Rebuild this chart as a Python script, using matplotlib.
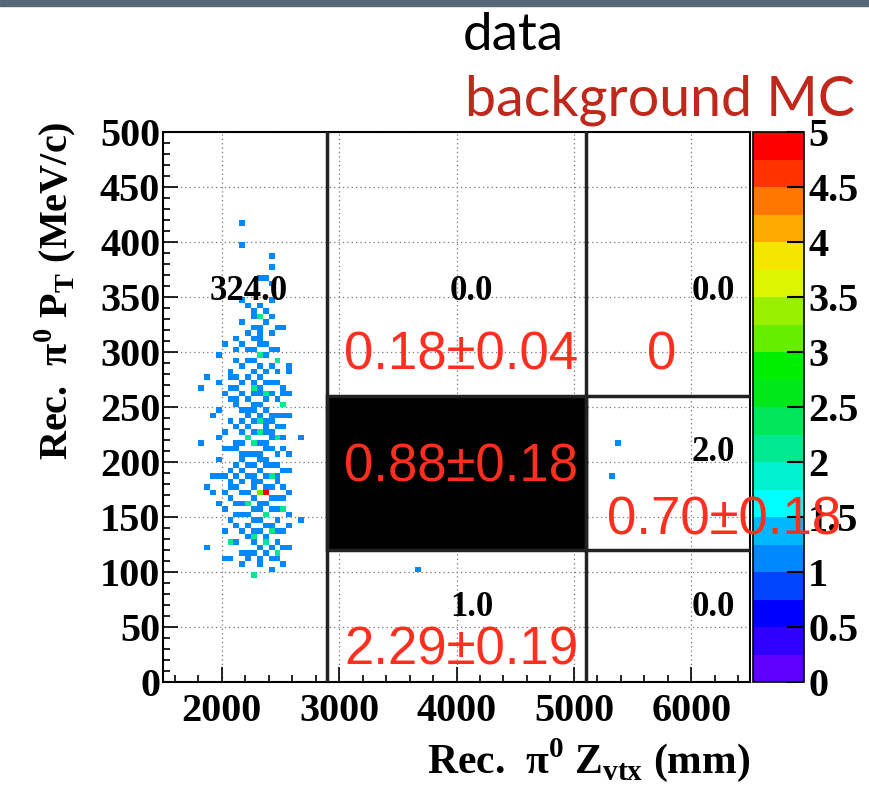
import numpy as np
import matplotlib
matplotlib.use("Agg")
import matplotlib.pyplot as plt
from matplotlib.colors import ListedColormap, BoundaryNorm
from matplotlib.patches import Rectangle
from matplotlib.ticker import MultipleLocator, FuncFormatter

plt.rcParams['font.family'] = ['Liberation Serif', 'DejaVu Serif']
plt.rcParams['font.weight'] = 'bold'

# ------------------------------------------------------------------
# occupied bins (bin centres, 50 mm x 5 MeV/c) and their entries
z_mm = [2175, 2175, 2425, 2425, 2375, 2425, 2325, 2275, 2325, 2275,
        2375, 2425, 2475, 2525, 2225, 2325, 2125, 2025, 1975, 2125,
        2275, 2325, 2375, 2475, 2575, 1875, 1825, 2075, 2125, 2275,
        2325, 2375, 2475, 2575, 2075, 2125, 2275, 2375, 2525, 1975,
        2075, 2125, 2275, 2325, 2425, 2525, 2575, 2175, 2325, 2375,
        1825, 2125, 2225, 2275, 2375, 2475, 2525, 2675, 2175, 2225,
        2325, 2375, 2475, 2575, 1975, 1875, 1925, 1975, 2075, 2075,
        2125, 2175, 2275, 2325, 2375, 2475, 2525, 2575, 2225, 2275,
        2325, 2425, 2525, 2575, 2675, 2125, 2275, 2425, 2025, 2075,
        2275, 2325, 2375, 2475, 1875, 2475, 2575, 2075, 2175, 2375,
        2475, 2025, 2275,
        2175, 2225, 2425, 2325, 2375, 2225, 2175, 2325, 2425, 2275,
        2425, 2175, 2225, 2325, 2475, 2225, 2275, 2375, 2475, 2125,
        2225, 2425, 2525, 2175, 2325, 2375, 2425, 2025, 2275, 2425,
        2525, 2075, 2175, 2325, 2225, 2375, 2425, 2225, 2275, 2125,
        2375, 2475, 2025, 2175, 2325, 2375, 2475, 2225, 2125, 2425,
        2225, 2325, 2525, 2425,
        3675, 5375, 5325]
pt_mev = [417.5, 397.5, 387.5, 377.5, 367.5, 362.5, 367.5, 337.5, 332.5, 332.5,
          337.5, 332.5, 322.5, 322.5, 317.5, 317.5, 312.5, 307.5, 297.5, 302.5,
          302.5, 307.5, 297.5, 292.5, 287.5, 277.5, 267.5, 282.5, 277.5, 282.5,
          277.5, 272.5, 282.5, 282.5, 267.5, 267.5, 267.5, 262.5, 262.5, 247.5,
          257.5, 252.5, 252.5, 252.5, 242.5, 252.5, 242.5, 237.5, 237.5, 232.5,
          217.5, 212.5, 222.5, 227.5, 227.5, 222.5, 222.5, 222.5, 202.5, 207.5,
          207.5, 202.5, 207.5, 207.5, 202.5, 177.5, 172.5, 187.5, 177.5, 167.5,
          187.5, 182.5, 182.5, 172.5, 172.5, 182.5, 177.5, 172.5, 162.5, 157.5,
          162.5, 157.5, 157.5, 152.5, 147.5, 142.5, 137.5, 137.5, 137.5, 127.5,
          127.5, 122.5, 127.5, 127.5, 122.5, 117.5, 122.5, 112.5, 107.5, 117.5,
          112.5, 112.5, 97.5,
          347.5, 342.5, 347.5, 312.5, 307.5, 292.5, 287.5, 287.5, 287.5, 272.5,
          272.5, 262.5, 257.5, 262.5, 257.5, 242.5, 237.5, 247.5, 242.5, 232.5,
          232.5, 227.5, 232.5, 217.5, 217.5, 212.5, 212.5, 212.5, 197.5, 197.5,
          192.5, 192.5, 192.5, 192.5, 187.5, 187.5, 177.5, 172.5, 167.5, 162.5,
          162.5, 167.5, 172.5, 152.5, 147.5, 142.5, 147.5, 142.5, 127.5, 122.5,
          117.5, 107.5, 107.5, 102.5,
          102.5, 217.5, 187.5]
n_evt = [1, 1, 1, 1, 1, 1, 1, 1, 2, 1,
         1, 1, 1, 1, 1, 1, 1, 1, 1, 1,
         1, 1, 1, 2, 1, 1, 1, 1, 1, 1,
         1, 1, 1, 1, 1, 1, 2, 2, 1, 1,
         1, 1, 1, 1, 1, 2, 1, 1, 2, 1,
         1, 1, 2, 1, 1, 2, 1, 1, 1, 1,
         1, 1, 1, 1, 1, 1, 1, 1, 1, 1,
         1, 1, 1, 3, 5, 1, 1, 1, 2, 1,
         1, 1, 2, 1, 1, 1, 1, 2, 1, 2,
         1, 1, 2, 1, 1, 2, 1, 1, 1, 1,
         1, 1, 2,
         1, 1, 1, 1, 1, 1, 1, 1, 1, 1,
         1, 1, 1, 1, 1, 1, 1, 1, 1, 1,
         1, 1, 1, 1, 1, 1, 1, 1, 1, 1,
         1, 1, 1, 1, 1, 1, 1, 1, 1, 1,
         1, 1, 1, 1, 1, 1, 1, 1, 1, 1,
         1, 1, 1, 1,
         1, 1, 1]

# more bins of the dense core, read column by column
z_core = ([2225] * 7 + [2275] * 12 + [2325] * 11 + [2375] * 9 + [2425] * 9
          + [2475] * 7 + [2175] * 10 + [2125] * 6 + [2075] * 5 + [2025] * 4
          + [2525] * 6 + [2575] * 3 + [1975] * 3 + [1925] * 2)
pt_core = [302.5, 277.5, 247.5, 197.5, 152.5, 132.5, 112.5,
           322.5, 312.5, 292.5, 262.5, 247.5, 217.5, 207.5, 187.5, 177.5, 147.5, 132.5, 117.5,
           342.5, 322.5, 297.5, 267.5, 242.5, 227.5, 202.5, 182.5, 157.5, 137.5, 112.5,
           327.5, 282.5, 257.5, 237.5, 217.5, 197.5, 177.5, 152.5, 132.5,
           317.5, 302.5, 262.5, 237.5, 222.5, 187.5, 167.5, 142.5, 112.5,
           302.5, 272.5, 232.5, 197.5, 187.5, 157.5, 137.5,
           327.5, 307.5, 272.5, 247.5, 227.5, 207.5, 172.5, 162.5, 137.5, 117.5,
           292.5, 257.5, 217.5, 197.5, 177.5, 152.5,
           277.5, 237.5, 212.5, 182.5, 147.5,
           262.5, 227.5, 187.5, 157.5,
           267.5, 242.5, 212.5, 167.5, 137.5, 122.5,
           262.5, 192.5, 142.5,
           272.5, 222.5, 162.5,
           242.5, 187.5]
n_core = [1, 1, 1, 1, 1, 1, 1,
          1, 1, 1, 1, 1, 2, 1, 1, 1, 1, 2, 1,
          1, 1, 2, 1, 1, 2, 1, 1, 1, 1, 1,
          1, 1, 1, 1, 1, 1, 1, 2, 1,
          1, 1, 1, 1, 1, 2, 1, 1, 1,
          1, 1, 1, 1, 1, 1, 1,
          1, 1, 1, 1, 1, 1, 1, 1, 1, 1,
          1, 1, 1, 1, 1, 1,
          1, 1, 1, 1, 1,
          1, 1, 1, 1,
          1, 1, 1, 1, 1, 1,
          1, 1, 1,
          1, 1, 1,
          1, 1]

# signal box and region limits
z_lo, z_hi = 2900, 5100
pt_lo, pt_hi = 120, 260

# region yields: data counts (black) and background MC (red)
data_txt = ['324.0', '0.0', '0.0', '2.0', '1.0', '0.0']
data_pos = [(2230, 355), (4128, 355), (6187, 355), (6187, 209), (4128, 68), (6187, 68)]
mc_txt = ['0.18±0.04', '0', '0.88±0.18', '0.70±0.18', '2.29±0.19']
mc_pos = [(4040, 297), (5745, 297), (4040, 195), (6280, 147), (4040, 29)]

# ROOT-like palette, 20 levels from 0 to 5
pal = ['#6000ff', '#3000ff', '#0000ff', '#0044ff', '#0088ff', '#00b8ff',
       '#00ffff', '#00f0d0', '#00e890', '#00e85a', '#00e81a', '#00ee00',
       '#66ee00', '#99f000', '#ddf500', '#f5e600', '#ffaa00', '#ff7700',
       '#ff3300', '#ff0000']
cmap = ListedColormap(pal)
norm = BoundaryNorm(np.linspace(0, 5, 21), cmap.N, clip=True)

fig = plt.figure(figsize=(8.69, 7.86), dpi=100)
ax = fig.add_axes([0.1876, 0.1323, 0.6755, 0.6997])
cax = fig.add_axes([0.8665, 0.1323, 0.0587, 0.6997])

xedges = np.arange(1500, 6501, 50)
yedges = np.arange(0, 501, 5)
H, _, _ = np.histogram2d(z_mm + z_core, pt_mev + pt_core,
                         bins=[xedges, yedges], weights=n_evt + n_core)
H = np.ma.masked_equal(H.T, 0)
mesh = ax.pcolormesh(xedges, yedges, H, cmap=cmap, norm=norm, zorder=2)

# signal box + region lines
ax.add_patch(Rectangle((z_lo, pt_lo), z_hi - z_lo, pt_hi - pt_lo, facecolor='black',
                       edgecolor='#222222', lw=2.5, zorder=3))
for zz in [z_lo, z_hi]:
    ax.plot([zz, zz], [0, 500], color='#222222', lw=2.5, zorder=3)
for pp in [pt_lo, pt_hi]:
    ax.plot([z_hi, 6500], [pp, pp], color='#222222', lw=2.5, zorder=3)

for t, (x, y) in zip(data_txt, data_pos):
    ax.text(x, y, t, ha='center', va='center', fontsize=25, color='black', zorder=5)
# red numbers are drawn on top of everything (they run over the palette)
for t, (x, y) in zip(mc_txt, mc_pos):
    fig.text(x, y, t, transform=ax.transData, ha='center', va='center', fontsize=38,
             color='#ff2e1e', family='Liberation Sans', weight='normal', zorder=10)

ax.set_xlim(1500, 6500)
ax.set_ylim(0, 500)
ax.set_xticks([2000, 3000, 4000, 5000, 6000])
ax.set_yticks(np.arange(0, 501, 50))
ax.xaxis.set_minor_locator(MultipleLocator(200))
ax.yaxis.set_minor_locator(MultipleLocator(10))
ax.tick_params(which='both', direction='in', top=False, right=False, labelsize=29, width=1.2)
ax.tick_params(which='major', length=11)
ax.tick_params(which='minor', length=5)
ax.tick_params(axis='y', pad=2)
ax.tick_params(axis='x', pad=8)
ax.grid(True, which='major', color='#777777', ls=(0, (1, 2.5)), lw=0.9)
ax.set_axisbelow(True)
for s in ax.spines.values():
    s.set_linewidth(1.5)

cb = fig.colorbar(mesh, cax=cax, ticks=np.arange(0, 5.01, 0.5))
cb.ax.yaxis.set_major_formatter(FuncFormatter(lambda v, p: '%g' % v))
cb.ax.tick_params(direction='in', length=12, width=1.5, labelsize=29, pad=3)
cb.ax.minorticks_off()
cb.outline.set_linewidth(1.2)

fig.text(55 / 869, 1 - 291 / 786, r'Rec.  π$^\mathregular{0}$ P$_\mathregular{T}$ (MeV/c)',
         rotation=90, ha='center', va='center', fontsize=29)
fig.text(750 / 869, 1 - 760 / 786, r'Rec.  π$^\mathregular{0}$ Z$_\mathregular{vtx}$ (mm)',
         ha='right', va='center', fontsize=30)

fig.text(513 / 869, 1 - 35 / 786, 'data', family='Lato', weight='normal',
         fontsize=38, ha='center', va='center', color='black')
fig.text(855 / 869, 1 - 100 / 786, 'background MC', family='Lato', weight='normal',
         fontsize=40, ha='right', va='center', color='#c0281c')

fig.patches.append(Rectangle((0, 1 - 6 / 786), 1, 6 / 786, transform=fig.transFigure,
                             color='#56687a', zorder=0))

fig.savefig('out.png', dpi=100)
